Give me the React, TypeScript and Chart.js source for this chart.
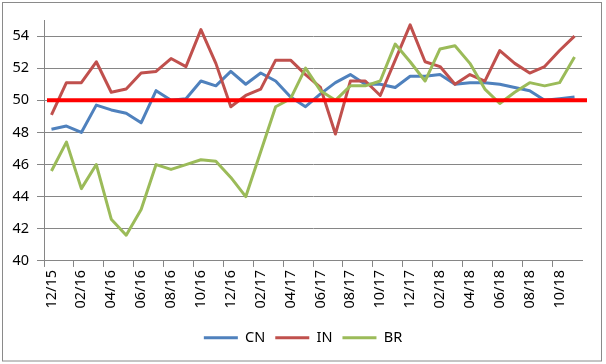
import React, { useEffect, useRef } from "react";
import { Chart, registerables } from "chart.js";

Chart.register(...registerables);

const months = [
  "12/15", "01/16", "02/16", "03/16", "04/16", "05/16", "06/16", "07/16", "08/16", "09/16", "10/16", "11/16",
  "12/16", "01/17", "02/17", "03/17", "04/17", "05/17", "06/17", "07/17", "08/17", "09/17", "10/17", "11/17",
  "12/17", "01/18", "02/18", "03/18", "04/18", "05/18", "06/18", "07/18", "08/18", "09/18", "10/18", "11/18",
];

const cnValues = [
  48.2, 48.4, 48.0, 49.7, 49.4, 49.2, 48.6, 50.6, 50.0, 50.1, 51.2, 50.9,
  51.8, 51.0, 51.7, 51.2, 50.2, 49.6, 50.4, 51.1, 51.6, 51.0, 51.0, 50.8,
  51.5, 51.5, 51.6, 51.0, 51.1, 51.1, 51.0, 50.8, 50.6, 50.0, 50.1, 50.2,
];

const inValues = [
  49.1, 51.1, 51.1, 52.4, 50.5, 50.7, 51.7, 51.8, 52.6, 52.1, 54.4, 52.3,
  49.6, 50.3, 50.7, 52.5, 52.5, 51.6, 50.8, 47.9, 51.2, 51.2, 50.3, 52.5,
  54.7, 52.4, 52.1, 51.0, 51.6, 51.2, 53.1, 52.3, 51.7, 52.1, 53.1, 54.0,
];

const brValues = [
  45.6, 47.4, 44.5, 46.0, 42.6, 41.6, 43.2, 46.0, 45.7, 46.0, 46.3, 46.2,
  45.2, 44.0, 46.8, 49.6, 50.1, 52.0, 50.6, 50.0, 50.9, 50.9, 51.2, 53.5,
  52.4, 51.2, 53.2, 53.4, 52.3, 50.7, 49.8, 50.5, 51.1, 50.9, 51.1, 52.7,
];

const yTickValues = [40, 42, 44, 46, 48, 50, 52, 54];

const THRESHOLD = 50;
const Y_MIN = 40;
const Y_MAX = 55;

const FONT = "'Noto Sans', sans-serif";
const GRID = "#868686";

const frameAndThreshold = {
  id: "frameAndThreshold",
  afterLayout(chart: any) {
    // centre the legend on the whole frame, not just the left part
    if (chart.legend) {
      chart.legend.left = 0;
      chart.legend.right = chart.width;
    }
  },
  beforeDraw(chart: any) {
    const ctx = chart.ctx;
    ctx.save();
    ctx.fillStyle = "#ffffff";
    ctx.fillRect(0, 0, chart.width, chart.height);
    ctx.strokeStyle = "#8a8a8a";
    ctx.lineWidth = 1;
    ctx.strokeRect(2.5, 2.5, 599, 358.5);
    ctx.restore();
  },
  afterDatasetsDraw(chart: any) {
    const ctx = chart.ctx;
    const y = chart.scales.y.getPixelForValue(THRESHOLD);
    const { left, right } = chart.chartArea;
    ctx.save();
    ctx.strokeStyle = "#ff0000";
    ctx.lineWidth = 4;
    ctx.beginPath();
    ctx.moveTo(left + 3, y);
    ctx.lineTo(right + 5, y);
    ctx.stroke();
    ctx.restore();
  },
};

export default function App() {
  const canvasRef = useRef<HTMLCanvasElement | null>(null);

  useEffect(() => {
    const canvas = canvasRef.current;
    if (!canvas) return;
    const lineStyle = { borderWidth: 3, pointRadius: 0, pointHoverRadius: 0, tension: 0, borderJoinStyle: "round" as const };
    const chart = new Chart(canvas, {
      type: "line",
      data: {
        labels: months,
        datasets: [
          { label: "CN", data: cnValues, borderColor: "#4f81bd", backgroundColor: "#4f81bd", order: 3, ...lineStyle },
          { label: "IN", data: inValues, borderColor: "#c0504d", backgroundColor: "#c0504d", order: 2, ...lineStyle },
          { label: "BR", data: brValues, borderColor: "#9bbb59", backgroundColor: "#9bbb59", order: 1, ...lineStyle },
        ],
      },
      options: {
        animation: false,
        responsive: false,
        maintainAspectRatio: false,
        devicePixelRatio: 1,
        layout: { padding: { top: 20, right: 24, bottom: 9, left: 0 } },
        scales: {
          x: {
            type: "category",
            offset: true,
            afterFit: (s: any) => {
              s.height += 9;
            },
            grid: {
              offset: true,
              drawOnChartArea: false,
              drawTicks: true,
              tickLength: 6,
              tickColor: (c: any) => (c.index % 2 === 0 ? GRID : "rgba(0,0,0,0)"),
            },
            border: { display: true, color: GRID, width: 1 },
            ticks: {
              autoSkip: false,
              maxRotation: 90,
              minRotation: 90,
              padding: 3,
              color: "#000",
              font: { family: FONT, size: 14.5 },
              callback: (_v: any, i: number) => (i % 2 === 0 ? months[i] : ""),
            },
          },
          y: {
            min: Y_MIN,
            max: Y_MAX,
            afterBuildTicks: (s: any) => {
              s.ticks = yTickValues.map((v) => ({ value: v }));
            },
            afterFit: (s: any) => {
              s.width = 44;
            },
            grid: { color: GRID, lineWidth: 1, tickLength: 7, drawTicks: true, tickColor: GRID },
            border: { display: true, color: GRID, width: 1 },
            ticks: {
              padding: 8,
              color: "#000",
              font: { family: FONT, size: 14.5 },
            },
          },
        },
        plugins: {
          legend: {
            position: "bottom",
            labels: {
              usePointStyle: true,
              pointStyle: "line",
              pointStyleWidth: 34,
              padding: 10,
              color: "#000",
              font: { family: FONT, size: 14.5 },
              sort: (a: any, b: any) => a.datasetIndex - b.datasetIndex,
            },
          },
          tooltip: { enabled: false },
        },
      },
      plugins: [frameAndThreshold],
    });
    return () => chart.destroy();
  }, []);

  return (
    <div style={{ position: "fixed", left: 0, top: 0, width: 606, height: 364, background: "#fff" }}>
      <canvas ref={canvasRef} width={606} height={364} style={{ width: 606, height: 364, display: "block" }} />
    </div>
  );
}
